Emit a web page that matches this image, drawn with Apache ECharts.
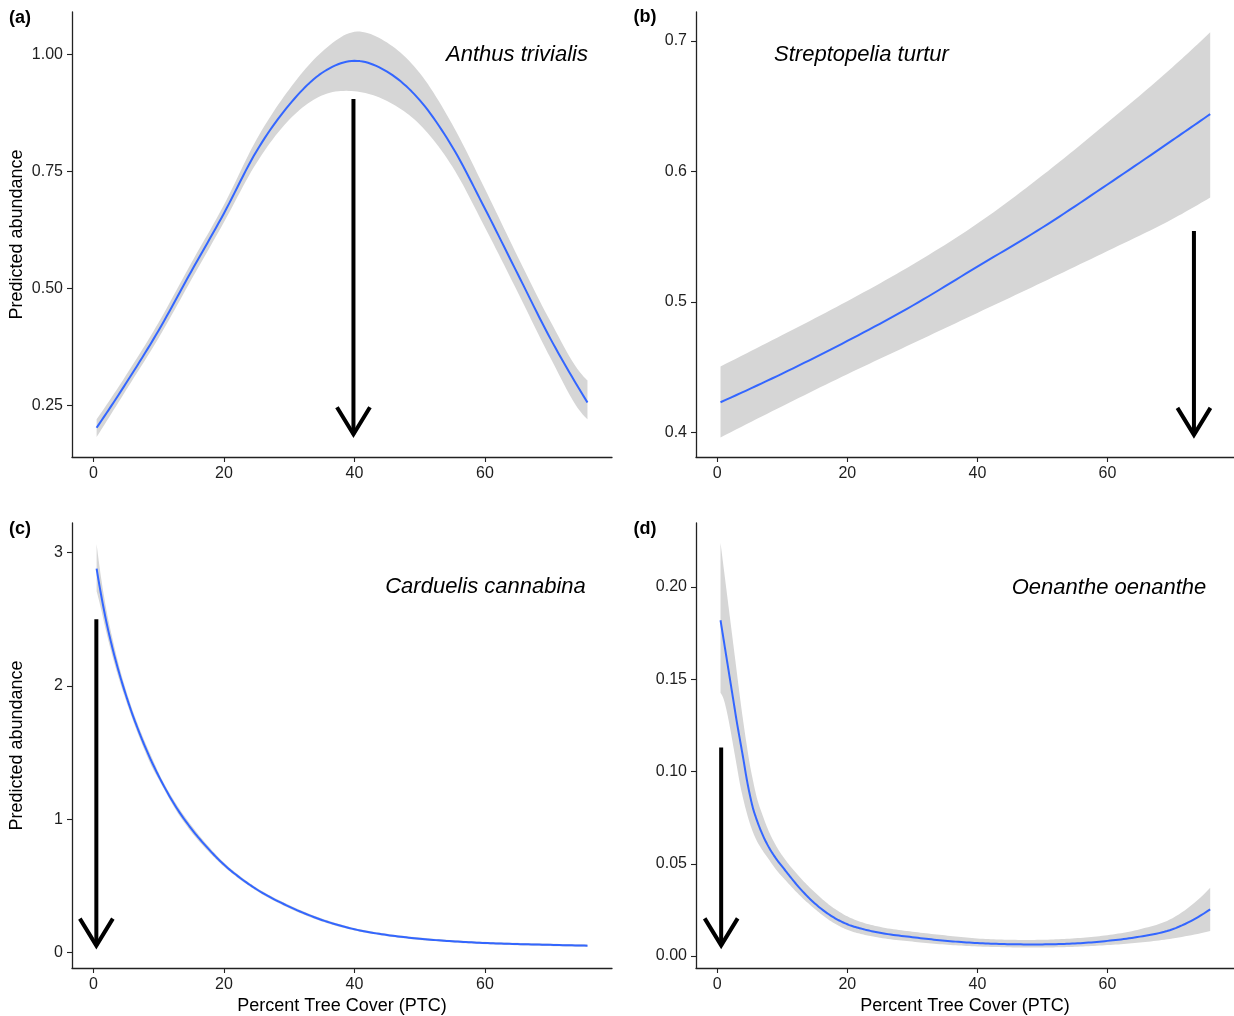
<!DOCTYPE html>
<html><head><meta charset="utf-8">
<script src="https://cdn.jsdelivr.net/npm/echarts@6/dist/echarts.min.js"></script>
<style>html,body{margin:0;padding:0;background:#fff}#c{width:1234px;height:1016px}</style>
</head><body><div id="c"></div>
<script>
const FONT = "'Liberation Sans', Arial, Helvetica, sans-serif";

// ---- tick labels ----
const xTicks = [0, 20, 40, 60];
const yTicksA = [0.25, 0.50, 0.75, 1.00];
const yTicksB = [0.4, 0.5, 0.6, 0.7];
const yTicksC = [0, 1, 2, 3];
const yTicksD = [0.00, 0.05, 0.10, 0.15, 0.20];

// ---- text ----
const panelLabels = ['(a)', '(b)', '(c)', '(d)'];
const speciesNames = ['Anthus trivialis', 'Streptopelia turtur', 'Carduelis cannabina', 'Oenanthe oenanthe'];
const yTitle = 'Predicted abundance';
const xTitle = 'Percent Tree Cover (PTC)';

// ---- (a) Anthus trivialis ----
const xA   = [0.5, 5, 10, 15, 20, 25, 30, 35, 40, 45, 50, 55, 60, 65, 70, 75, 75.7];
const fitA = [0.202, 0.297, 0.410, 0.536, 0.660, 0.793, 0.892, 0.960, 0.986, 0.963, 0.902, 0.802, 0.670, 0.531, 0.393, 0.272, 0.256];
const loA  = [0.182, 0.282, 0.394, 0.518, 0.641, 0.768, 0.860, 0.912, 0.921, 0.900, 0.850, 0.760, 0.630, 0.492, 0.352, 0.230, 0.220];
const hiA  = [0.220, 0.314, 0.427, 0.554, 0.678, 0.818, 0.925, 1.005, 1.048, 1.025, 0.960, 0.850, 0.712, 0.568, 0.430, 0.313, 0.303];

// ---- (b) Streptopelia turtur ----
const xB   = [0.5, 10, 20, 30, 40, 50, 60, 70, 75.8];
const fitB = [0.423, 0.445, 0.470, 0.497, 0.527, 0.557, 0.590, 0.624, 0.644];
const loB  = [0.396, 0.420, 0.4445, 0.468, 0.4915, 0.515, 0.539, 0.5635, 0.580];
const hiB  = [0.4505, 0.4745, 0.5005, 0.5285, 0.560, 0.597, 0.6375, 0.680, 0.7067];

// ---- (c) Carduelis cannabina ----
const xC   = [0.5, 1, 2, 3, 4, 5, 6, 7, 8, 9, 10, 12.5, 15, 17.5, 20, 22.5, 25, 30, 35, 40, 45, 50, 55, 60, 65, 70, 75.7];
const fitC = [2.88, 2.735, 2.48, 2.27, 2.09, 1.93, 1.785, 1.655, 1.535, 1.425, 1.325, 1.105, 0.93, 0.785, 0.66, 0.56, 0.475, 0.345, 0.245, 0.175, 0.132, 0.104, 0.085, 0.072, 0.064, 0.058, 0.052];
const loC  = [2.71, 2.615, 2.40, 2.21, 2.04, 1.89, 1.75, 1.62, 1.50, 1.39, 1.30, 1.08, 0.905, 0.765, 0.645, 0.547, 0.463, 0.333, 0.234, 0.166, 0.123, 0.095, 0.076, 0.063, 0.055, 0.049, 0.043];
const hiC  = [3.065, 2.875, 2.57, 2.34, 2.14, 1.97, 1.82, 1.69, 1.57, 1.46, 1.35, 1.13, 0.955, 0.805, 0.675, 0.573, 0.487, 0.357, 0.256, 0.184, 0.141, 0.113, 0.094, 0.081, 0.073, 0.067, 0.061];

// ---- (d) Oenanthe oenanthe ----
const xD   = [0.5, 1, 1.5, 2, 2.5, 3, 3.5, 4, 4.5, 5, 5.5, 6, 7, 8, 9, 10.5, 12.5, 15, 17.5, 20, 22.5, 25, 30, 35, 40, 45, 50, 55, 60, 65, 70, 75.8];
const fitD = [0.182, 0.171, 0.160, 0.149, 0.138, 0.127, 0.117, 0.107, 0.0965, 0.0875, 0.080, 0.0745, 0.0655, 0.0585, 0.053, 0.0462, 0.0375, 0.0285, 0.0218, 0.0172, 0.0145, 0.0126, 0.0102, 0.0083, 0.0070, 0.0064, 0.0063, 0.0068, 0.0082, 0.0105, 0.0145, 0.0253];
const loD  = [0.1426, 0.139, 0.132, 0.123, 0.113, 0.103, 0.093, 0.085, 0.078, 0.072, 0.067, 0.063, 0.057, 0.052, 0.047, 0.041, 0.0335, 0.0255, 0.0188, 0.0142, 0.0116, 0.0099, 0.0078, 0.0062, 0.0052, 0.0047, 0.0046, 0.0050, 0.0059, 0.0073, 0.0095, 0.0135];
const hiD  = [0.224, 0.210, 0.196, 0.182, 0.168, 0.154, 0.140, 0.127, 0.115, 0.104, 0.095, 0.087, 0.076, 0.067, 0.060, 0.052, 0.0435, 0.0345, 0.0270, 0.0215, 0.0180, 0.0158, 0.0132, 0.0112, 0.0095, 0.0088, 0.0088, 0.0096, 0.0113, 0.0145, 0.0205, 0.0370];

// ---- arrows: [x, yTop, yTip] ----
const arrowA = [39.85, 0.9045, 0.1795];
const arrowB = [73.3, 0.5544, 0.3949];
const arrowC = [0.46, 2.50, 0.0225];
const arrowD = [0.6, 0.113, 0.0036];

const panels = [
  {x: xA, fit: fitA, lo: loA, hi: hiA, arrow: arrowA, yTicks: yTicksA, dec: 2, ymin: 0.1395, ymax: 1.0904,
   grid: {left: 72, top: 12, width: 540, height: 445}, yName: yTitle, xName: '', title: [517, 55], lab: [20, 18]},
  {x: xB, fit: fitB, lo: loB, hi: hiB, arrow: arrowB, yTicks: yTicksB, dec: 1, ymin: 0.381, ymax: 0.7223,
   grid: {left: 696, top: 12, width: 538, height: 445}, yName: '', xName: '', title: [861.5, 55], lab: [645, 17]},
  {x: xC, fit: fitC, lo: loC, hi: hiC, arrow: arrowC, yTicks: yTicksC, dec: 0, ymin: -0.1155, ymax: 3.222,
   grid: {left: 72, top: 523, width: 540, height: 445}, yName: yTitle, xName: xTitle, title: [485.5, 587], lab: [20, 529]},
  {x: xD, fit: fitD, lo: loD, hi: hiD, arrow: arrowD, yTicks: yTicksD, dec: 2, ymin: -0.0065, ymax: 0.2347,
   grid: {left: 696, top: 523, width: 538, height: 445}, yName: '', xName: xTitle, title: [1109, 588], lab: [645, 529]}
];

const AXIS_COLOR = '#222222';
const LABEL_COLOR = '#1e1e1e';

// Cubic Hermite smoothing of pixel points along x (drawing only)
function smoothPts(pts) {
  const n = pts.length;
  if (n < 3) return pts.slice();
  const h = [], s = [], d = [];
  for (let i = 0; i < n - 1; i++) {
    h.push(pts[i + 1][0] - pts[i][0]);
    s.push((pts[i + 1][1] - pts[i][1]) / h[i]);
  }
  for (let i = 1; i < n - 1; i++) d[i] = (h[i] * s[i - 1] + h[i - 1] * s[i]) / (h[i - 1] + h[i]);
  d[0] = ((2 * h[0] + h[1]) * s[0] - h[0] * s[1]) / (h[0] + h[1]);
  if (d[0] * s[0] < 0) d[0] = 0;
  const m = n - 2;
  d[n - 1] = ((2 * h[m] + h[m - 1]) * s[m] - h[m] * s[m - 1]) / (h[m] + h[m - 1]);
  if (d[n - 1] * s[m] < 0) d[n - 1] = 0;
  const out = [];
  for (let i = 0; i < n - 1; i++) {
    const p1 = pts[i], p2 = pts[i + 1], hh = h[i];
    const c1 = [p1[0] + hh / 3, p1[1] + d[i] * hh / 3];
    const c2 = [p2[0] - hh / 3, p2[1] - d[i + 1] * hh / 3];
    const steps = 12;
    for (let k = 0; k < steps; k++) {
      const t = k / steps, u = 1 - t;
      out.push([
        u*u*u*p1[0] + 3*u*u*t*c1[0] + 3*u*t*t*c2[0] + t*t*t*p2[0],
        u*u*u*p1[1] + 3*u*u*t*c1[1] + 3*u*t*t*c2[1] + t*t*t*p2[1]
      ]);
    }
  }
  out.push(pts[n - 1]);
  return out;
}

const grids = [], xAxes = [], yAxes = [], series = [], graphics = [];

panels.forEach((p, i) => {
  grids.push(Object.assign({containLabel: false}, p.grid));
  xAxes.push({
    type: 'value', gridIndex: i, min: -3.27, max: 79.46,
    axisLine: {show: true, onZero: false, lineStyle: {color: AXIS_COLOR, width: 1.3}},
    axisTick: {show: true, customValues: xTicks, length: 5, lineStyle: {color: AXIS_COLOR, width: 1.1}},
    axisLabel: {customValues: xTicks, color: LABEL_COLOR, fontFamily: FONT, fontSize: 16, margin: 9},
    splitLine: {show: false},
    name: p.xName, nameLocation: 'middle', nameGap: 29,
    nameTextStyle: {color: '#000', fontFamily: FONT, fontSize: 18}
  });
  yAxes.push({
    type: 'value', gridIndex: i, min: p.ymin, max: p.ymax,
    axisLine: {show: true, onZero: false, lineStyle: {color: AXIS_COLOR, width: 1.3}},
    axisTick: {show: true, customValues: p.yTicks, length: 5, lineStyle: {color: AXIS_COLOR, width: 1.1}},
    axisLabel: {customValues: p.yTicks, color: LABEL_COLOR, fontFamily: FONT, fontSize: 16, margin: 9,
      formatter: (v) => Number(v).toFixed(p.dec)},
    splitLine: {show: false},
    name: p.yName, nameLocation: 'middle', nameGap: 46,
    nameTextStyle: {color: '#000', fontFamily: FONT, fontSize: 18}
  });

  const xs = p.x, lo = p.lo, hi = p.hi, fit = p.fit;
  // confidence band
  series.push({
    type: 'custom', xAxisIndex: i, yAxisIndex: i, silent: true, z: 1, clip: true,
    data: xs.map((x, k) => [x, lo[k], hi[k]]),
    encode: {x: 0, y: [1, 2]},
    renderItem: function (params, api) {
      if (params.dataIndex !== 0) return null;
      const up = smoothPts(xs.map((x, k) => api.coord([x, hi[k]])));
      const dn = smoothPts(xs.map((x, k) => api.coord([x, lo[k]]))).reverse();
      return {type: 'polygon', shape: {points: up.concat(dn)}, style: {fill: '#D6D6D6', stroke: null}};
    }
  });
  // fitted line
  series.push({
    type: 'custom', xAxisIndex: i, yAxisIndex: i, silent: true, z: 2, clip: true,
    data: xs.map((x, k) => [x, fit[k]]),
    encode: {x: 0, y: 1},
    renderItem: function (params, api) {
      if (params.dataIndex !== 0) return null;
      const pts = smoothPts(xs.map((x, k) => api.coord([x, fit[k]])));
      return {type: 'polyline', shape: {points: pts}, style: {stroke: '#3366FF', lineWidth: 2, fill: null, lineJoin: 'round'}};
    }
  });
  // arrow
  series.push({
    type: 'custom', xAxisIndex: i, yAxisIndex: i, silent: true, z: 3, clip: false,
    data: [p.arrow],
    encode: {x: 0, y: [1, 2]},
    renderItem: function (params, api) {
      const top = api.coord([api.value(0), api.value(1)]);
      const tip = api.coord([api.value(0), api.value(2)]);
      const ty = tip[1] - 4;
      return {type: 'group', children: [
        {type: 'line', shape: {x1: top[0], y1: top[1], x2: tip[0], y2: ty}, style: {stroke: '#000', lineWidth: 4}},
        {type: 'polyline', shape: {points: [[tip[0] - 16.5, ty - 27], [tip[0], ty], [tip[0] + 16.5, ty - 27]]},
         style: {stroke: '#000', lineWidth: 4, fill: null, lineJoin: 'miter'}}
      ]};
    }
  });

  graphics.push({
    type: 'text', x: p.title[0], y: p.title[1], silent: true,
    style: {text: speciesNames[i], fill: '#000', font: 'italic 22px ' + FONT, textAlign: 'center', textVerticalAlign: 'middle'}
  });
  graphics.push({
    type: 'text', x: p.lab[0], y: p.lab[1], silent: true,
    style: {text: panelLabels[i], fill: '#000', font: 'bold 18px ' + FONT, textAlign: 'center', textVerticalAlign: 'middle'}
  });
});

const chart = echarts.init(document.getElementById('c'), null, {renderer: 'canvas'});
chart.setOption({
  backgroundColor: '#ffffff',
  animation: false,
  grid: grids, xAxis: xAxes, yAxis: yAxes, series: series, graphic: graphics
});
</script>
</body></html>
